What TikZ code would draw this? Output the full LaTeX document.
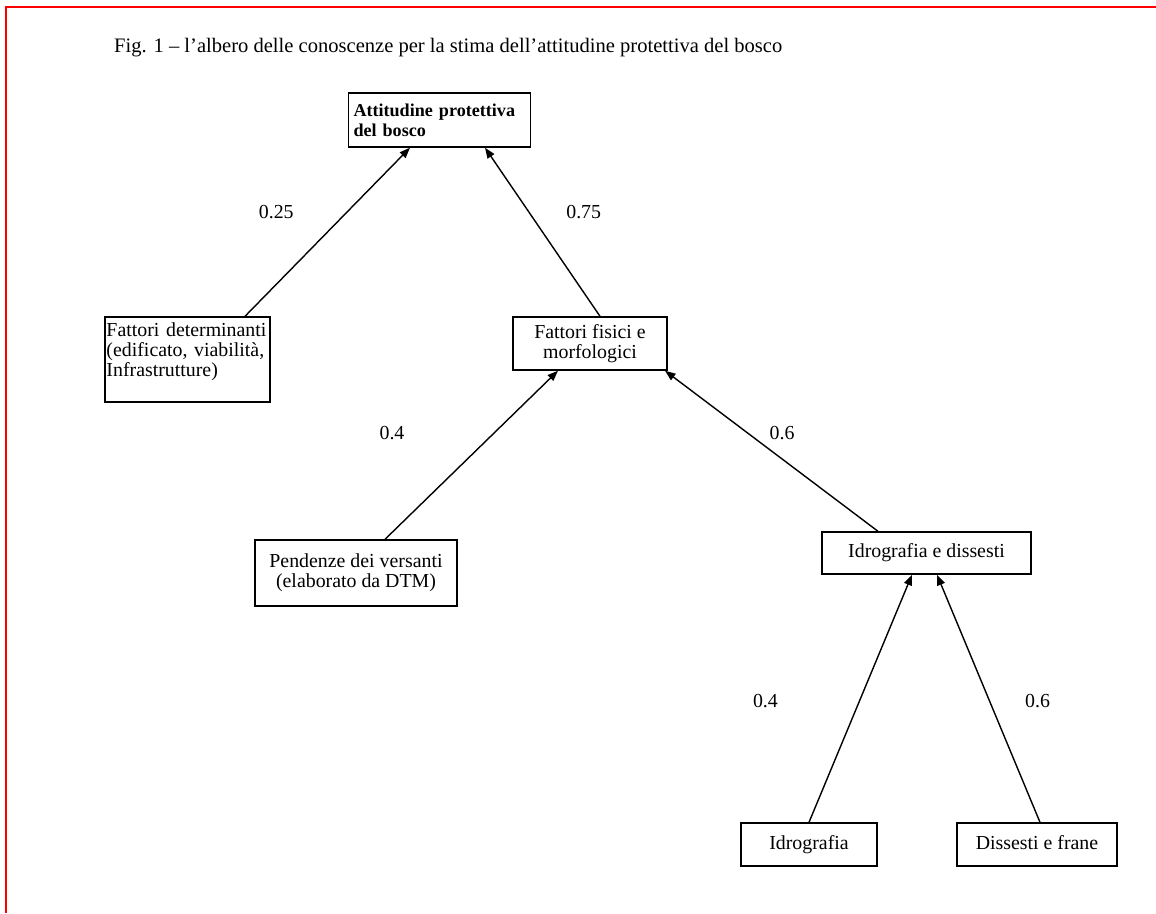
\documentclass[tikz,border=0pt]{standalone}
\usepackage{fontspec}
\setmainfont{Liberation Serif}
\usetikzlibrary{arrows.meta}

\begin{document}
\begin{tikzpicture}[x=0.2mm,y=-0.2mm,font=\fontsize{11.3}{11.3}\selectfont]
        \useasboundingbox (0,0) rectangle (1156,913);
        \draw [red, line width=1.3pt] (6,913) -- (6,7) -- (1156,7);
        \node [anchor=west, font=\fontsize{11.7}{12}\selectfont] (title) at (108,48) {Fig. 1 -- l’albero delle conoscenze per la stima dell’attitudine protettiva del bosco};

        \begin{scope}[every node/.style={rectangle,draw,line width=0.8pt,inner sep=1pt}]
            \node [minimum width=36.2mm, minimum height=10.8mm, align=left, text width=34.4mm, inner xsep=1mm, inner ysep=0.4pt, font=\fontsize{10.3}{11.5}\selectfont\bfseries] (ap) at (439.5,120) {\mbox{Attitudine protettiva}\\del bosco};
            \node [minimum width=33mm, minimum height=17mm, align=left, text width=32.4mm, inner sep=0.3pt] (fd) at (187.5,359.5) {Fattori determinanti\\(edificato, viabilità,\\Infrastrutture)\\\mbox{}};
            \node [minimum width=30.8mm, minimum height=10.6mm, align=center] (ff) at (590,343.5) {Fattori fisici e\\morfologici};
            \node [minimum width=40.4mm, minimum height=13.2mm, align=center] (pv) at (356,573) {Pendenze dei versanti\\(elaborato da DTM)};
            \node [minimum width=41.8mm, minimum height=8.4mm, text height=1.6ex, text depth=0.4ex] (id) at (926.5,553) {Idrografia e dissesti};
            \node [minimum width=27.2mm, minimum height=8.6mm, text height=1.6ex, text depth=0.4ex] (ig) at (809,844.5) {Idrografia};
            \node [minimum width=32mm, minimum height=8.6mm, text height=1.6ex, text depth=0.4ex] (df) at (1037,844.5) {Dissesti e frane};
        \end{scope}

        \begin{scope}[>={Triangle[length=6pt,width=4.5pt]},
                    every edge/.style={draw=black,line width=0.8pt}]
            \path [->] ([xshift=11.5mm]fd.north) edge node [pos=0.62, xshift=-14.2mm] {0.25} ([xshift=-5.9mm]ap.south);
            \path [->] ([xshift=2mm]ff.north)    edge node [pos=0.62, xshift=11mm]    {0.75} ([xshift=9.1mm]ap.south);
            \path [->] ([xshift=5.8mm]pv.north)  edge node [pos=0.63, xshift=-20.4mm] {0.4}  ([xshift=-6.4mm]ff.south);
            \path [->] ([xshift=-9.7mm]id.north) edge node [pos=0.61, xshift=6.8mm]   {0.6}  ([xshift=15mm]ff.south);
            \path [->] (ig.north)                edge node [pos=0.49, xshift=-18.8mm] {0.4}  ([xshift=-2.9mm]id.south);
            \path [->] ([xshift=0.6mm]df.north)  edge node [pos=0.49, xshift=9.6mm]   {0.6}  ([xshift=2.1mm]id.south);
        \end{scope}
    \end{tikzpicture}
\end{document}
